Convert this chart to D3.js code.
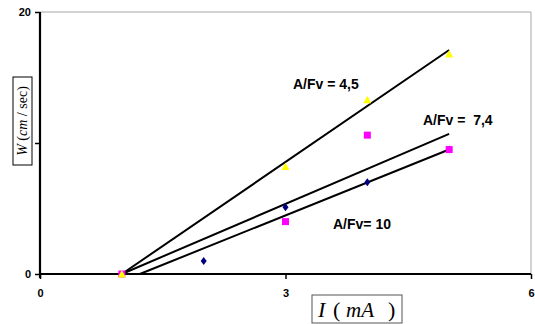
<!DOCTYPE html>
<html>
<head>
<meta charset="utf-8">
<script src="https://cdn.jsdelivr.net/npm/d3@7"></script>
<style>
  body { margin: 0; background: #fff; }
  text { font-family: "Liberation Sans", Arial, sans-serif; }
</style>
</head>
<body>
<svg id="chart" width="535" height="324"></svg>
<script>
// measured points, I (mA) vs W (cm/sec)
const iA = [1, 3, 4, 5]
const wA = [0, 8.2, 13.3, 16.8]      // A/Fv = 4,5  yellow
const iB = [1, 3, 4, 5]
const wB = [0, 4.0, 10.6, 9.5]       // A/Fv = 7,4  magenta
const iC = [2, 3, 4, 5]
const wC = [1.0, 5.1, 7.0, 9.5]      // A/Fv = 10   navy

// straight lines drawn through each set
const lineStartI = [1, 1, 1.22]
const lineEndI = [5, 5, 5]
const lineEndW = [17.1, 10.7, 9.5]
const lineNames = ['A/Fv = 4,5', 'A/Fv =  7,4', 'A/Fv= 10']

const xTicks = [0, 3, 6]
const yTicks = [0, 10, 20]
const yTickLabels = ['0', '', '20']

const svg = d3.select('#chart')
const x = d3.scaleLinear().domain([0, 6]).range([40, 531])
const y = d3.scaleLinear().domain([0, 20]).range([274, 12])

// plot border (top / right)
svg.append('path')
  .attr('d', `M${x(0)},${y(20)}H${x(6)}V${y(0)}`)
  .attr('fill', 'none').attr('stroke', '#a6a6a6').attr('stroke-width', 1)

const xAxis = d3.axisBottom(x).tickValues(xTicks).tickSize(5).tickPadding(10)
  .tickFormat(d3.format('d'))
const yAxis = d3.axisLeft(y).tickValues(yTicks).tickSize(5).tickPadding(4)
  .tickFormat((d, i) => yTickLabels[i])

const gx = svg.append('g').attr('transform', `translate(0,${y(0)})`).call(xAxis)
const gy = svg.append('g').attr('transform', `translate(${x(0)},0)`).call(yAxis)
for (const g of [gx, gy]) {
  g.select('.domain').remove()
  g.selectAll('line').attr('stroke', '#000').attr('stroke-width', 1.5)
  g.selectAll('text').attr('font-size', 11).attr('font-weight', 'bold')
    .attr('font-family', '"Liberation Sans", Arial, sans-serif').attr('fill', '#000')
}
svg.append('line').attr('x1', x(0)).attr('x2', x(6)).attr('y1', y(0)).attr('y2', y(0))
  .attr('stroke', '#000').attr('stroke-width', 2.2)
svg.append('line').attr('x1', x(0)).attr('x2', x(0)).attr('y1', y(20)).attr('y2', y(0) + 4)
  .attr('stroke', '#000').attr('stroke-width', 2.2)

// fitted lines
lineStartI.forEach((s, k) => {
  svg.append('line')
    .attr('x1', x(s)).attr('y1', y(0))
    .attr('x2', x(lineEndI[k])).attr('y2', y(lineEndW[k]))
    .attr('stroke', '#000').attr('stroke-width', 2)
})

// markers
svg.append('g').selectAll('path').data(iC).join('path')
  .attr('transform', (d, i) => `translate(${x(d)},${y(wC[i])})`)
  .attr('d', 'M0,-4L3,0L0,4L-3,0Z').attr('fill', '#000080')
svg.append('g').selectAll('rect').data(iB).join('rect')
  .attr('x', d => x(d) - 3.5).attr('y', (d, i) => y(wB[i]) - 3.5)
  .attr('width', 7).attr('height', 7).attr('fill', '#ff00ff')
svg.append('g').selectAll('path').data(iA).join('path')
  .attr('transform', (d, i) => `translate(${x(d)},${y(wA[i])})`)
  .attr('d', 'M0,-4L4,3.5L-4,3.5Z').attr('fill', '#ffff00')

// line labels
const labelPos = [[293, 89], [423, 125], [333, 229]]
lineNames.forEach((t, k) => {
  svg.append('text').attr('x', labelPos[k][0]).attr('y', labelPos[k][1])
    .attr('font-size', 14).attr('font-weight', 'bold').attr('xml:space', 'preserve')
    .style('white-space', 'pre').text(t)
})

// y axis title in a box
svg.append('rect').attr('x', 13).attr('y', 77).attr('width', 19).attr('height', 88)
  .attr('fill', '#fff').attr('stroke', '#000').attr('stroke-width', 1)
const yt = svg.append('text').attr('transform', 'translate(27,121) rotate(-90)')
  .attr('text-anchor', 'middle').attr('font-size', 14)
  .style('font-family', '"Liberation Serif", "Times New Roman", serif')
yt.append('tspan').attr('font-style', 'italic').text('W')
yt.append('tspan').text(' (')
yt.append('tspan').attr('font-style', 'italic').text('cm')
yt.append('tspan').text(' / ')
yt.append('tspan').text('sec')
yt.append('tspan').text(')')

// x axis title in a box
svg.append('rect').attr('x', 312).attr('y', 295).attr('width', 90).attr('height', 28)
  .attr('fill', '#fff').attr('stroke', '#555').attr('stroke-width', 1)
const serif = '"Liberation Serif", "Times New Roman", serif'
svg.append('text').attr('x', 318).attr('y', 317).attr('font-size', 22)
  .attr('font-style', 'italic').style('font-family', serif).text('I')
svg.append('text').attr('x', 333).attr('y', 317).attr('font-size', 22)
  .style('font-family', serif).text('(')
svg.append('text').attr('x', 346).attr('y', 317).attr('font-size', 21)
  .attr('font-style', 'italic').style('font-family', serif).text('mA')
svg.append('text').attr('x', 388).attr('y', 317).attr('font-size', 22)
  .style('font-family', serif).text(')')
</script>
</body>
</html>
